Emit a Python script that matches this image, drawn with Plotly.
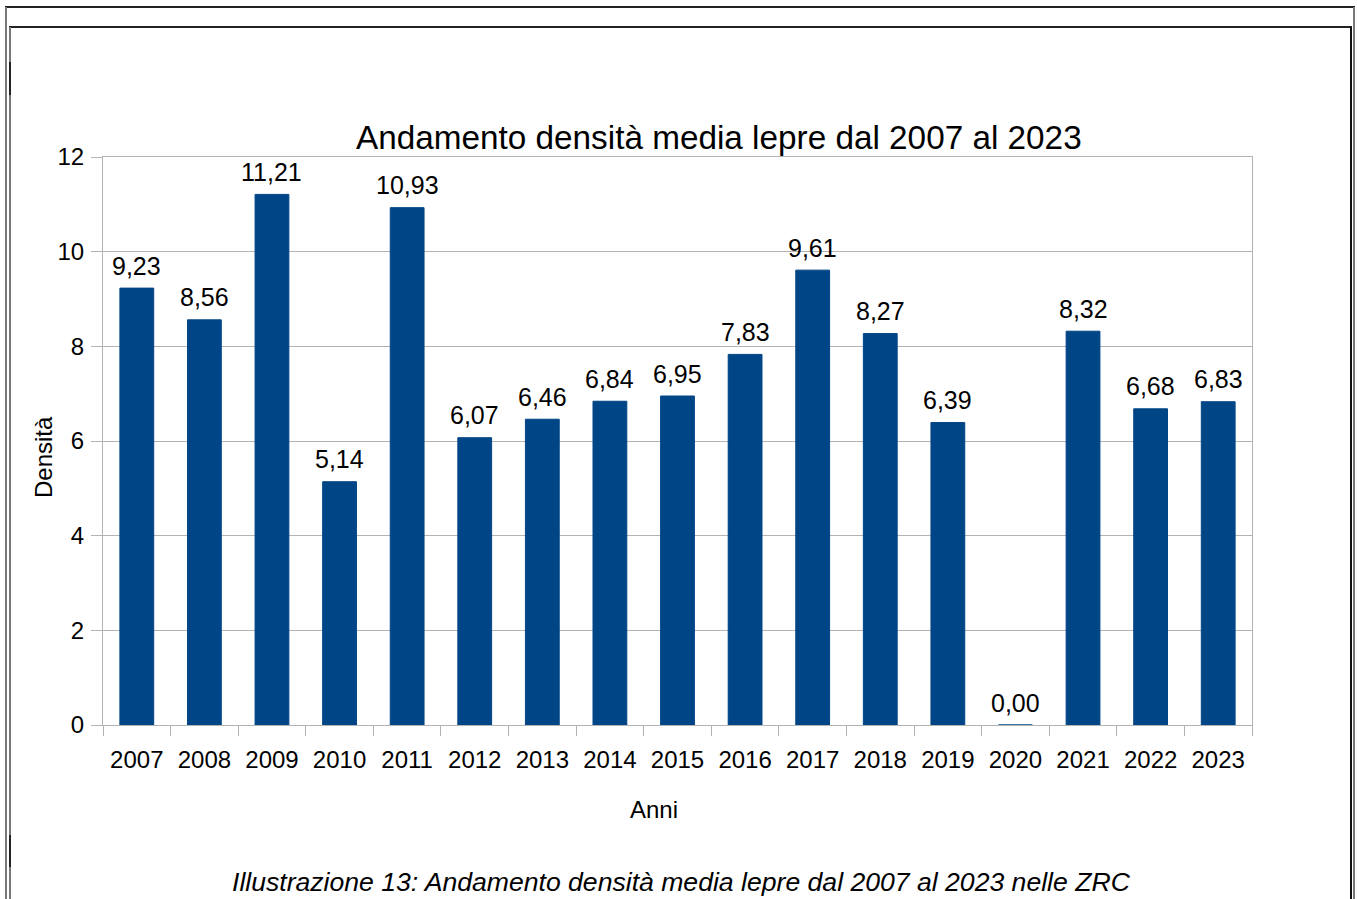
import plotly.graph_objects as go

# Mean hare density per year in the ZRC areas
anni = ["2007", "2008", "2009", "2010", "2011", "2012", "2013", "2014", "2015",
        "2016", "2017", "2018", "2019", "2020", "2021", "2022", "2023"]
densita = [9.23, 8.56, 11.21, 5.14, 10.93, 6.07, 6.46, 6.84, 6.95,
           7.83, 9.61, 8.27, 6.39, 0.00, 8.32, 6.68, 6.83]

W, H = 1357, 899
ML, MR, MT, MB = 103, 105, 157, 174
PW, PH = W - ML - MR, H - MT - MB

BAR = "#004586"
GRID = "#b3b3b3"
FONT = "Liberation Sans, Arial, sans-serif"


def px(x):
    return (x - ML) / PW


def py(y):
    return (H - MB - y) / PH


fig = go.Figure()
fig.add_trace(go.Bar(
    x=anni, y=densita,
    marker=dict(color=BAR, line=dict(color=BAR, width=1)),
    hoverinfo="x+y",
))

# Value labels above each bar (category index as x position)
annotations = []
for i, v in enumerate(densita):
    annotations.append(dict(
        x=i, y=v, xref="x", yref="y",
        text=f"{v:.2f}".replace(".", ","),
        showarrow=False, yanchor="middle", yshift=22.5,
        font=dict(family=FONT, size=25, color="#000000"),
    ))

annotations += [
    dict(x=px(719), y=py(137), xref="paper", yref="paper",
         text="Andamento densità media lepre dal 2007 al 2023",
         showarrow=False, xanchor="center", yanchor="middle",
         font=dict(family=FONT, size=33.3, color="#000000")),
    dict(x=px(654), y=py(809), xref="paper", yref="paper", text="Anni",
         showarrow=False, xanchor="center", yanchor="middle",
         font=dict(family=FONT, size=24, color="#000000")),
    dict(x=px(43), y=py(457), xref="paper", yref="paper", text="Densità",
         showarrow=False, xanchor="center", yanchor="middle", textangle=-90,
         font=dict(family=FONT, size=24, color="#000000")),
    dict(x=px(681), y=py(882), xref="paper", yref="paper",
         text="<i>Illustrazione 13: Andamento densità media lepre dal 2007 al 2023 nelle ZRC</i>",
         showarrow=False, xanchor="center", yanchor="middle",
         font=dict(family=FONT, size=26.6, color="#000000")),
]

# Page frames around the chart
def hline(x0, x1, y, color, width):
    return dict(type="line", xref="paper", yref="paper",
                x0=px(x0), x1=px(x1), y0=py(y), y1=py(y),
                line=dict(color=color, width=width))


def vline(x, y0, y1, color, width):
    return dict(type="line", xref="paper", yref="paper",
                x0=px(x), x1=px(x), y0=py(y0), y1=py(y1),
                line=dict(color=color, width=width))


shapes = [
    hline(5, 1355, 7, "#222222", 2),
    vline(6, 7, 905, "#777777", 2),
    vline(1354, 7, 905, "#777777", 2),
    hline(9, 1352, 27, "#222222", 2),
    vline(10, 27, 905, "#777777", 2),
    vline(1351, 27, 905, "#111111", 2),
    vline(10, 62, 95, "#222222", 2),
    vline(10, 835, 867, "#222222", 2),
]

fig.update_layout(
    width=W, height=H,
    margin=dict(l=ML, r=MR, t=MT, b=MB, pad=0),
    paper_bgcolor="#ffffff", plot_bgcolor="#ffffff",
    showlegend=False, bargap=0.5,
    font=dict(family=FONT, size=24, color="#000000"),
    annotations=annotations, shapes=shapes,
    xaxis=dict(
        type="category", range=[-0.5, 16.5], tickson="boundaries",
        ticks="outside", ticklen=10, tickcolor=GRID, tickwidth=1,
        showline=True, linecolor=GRID, linewidth=1, mirror=True,
        showgrid=False, tickfont=dict(family=FONT, size=24, color="#000000"),
        ticklabelstandoff=13, fixedrange=True,
    ),
    yaxis=dict(
        range=[0, 12], dtick=2, tick0=0,
        ticks="outside", ticklen=11, tickcolor=GRID, tickwidth=1,
        showline=True, linecolor=GRID, linewidth=1, mirror=True,
        showgrid=True, gridcolor=GRID, gridwidth=1, zeroline=False,
        tickfont=dict(family=FONT, size=24, color="#000000"),
        ticklabelstandoff=2, fixedrange=True,
    ),
)

fig.write_html("out.html")
